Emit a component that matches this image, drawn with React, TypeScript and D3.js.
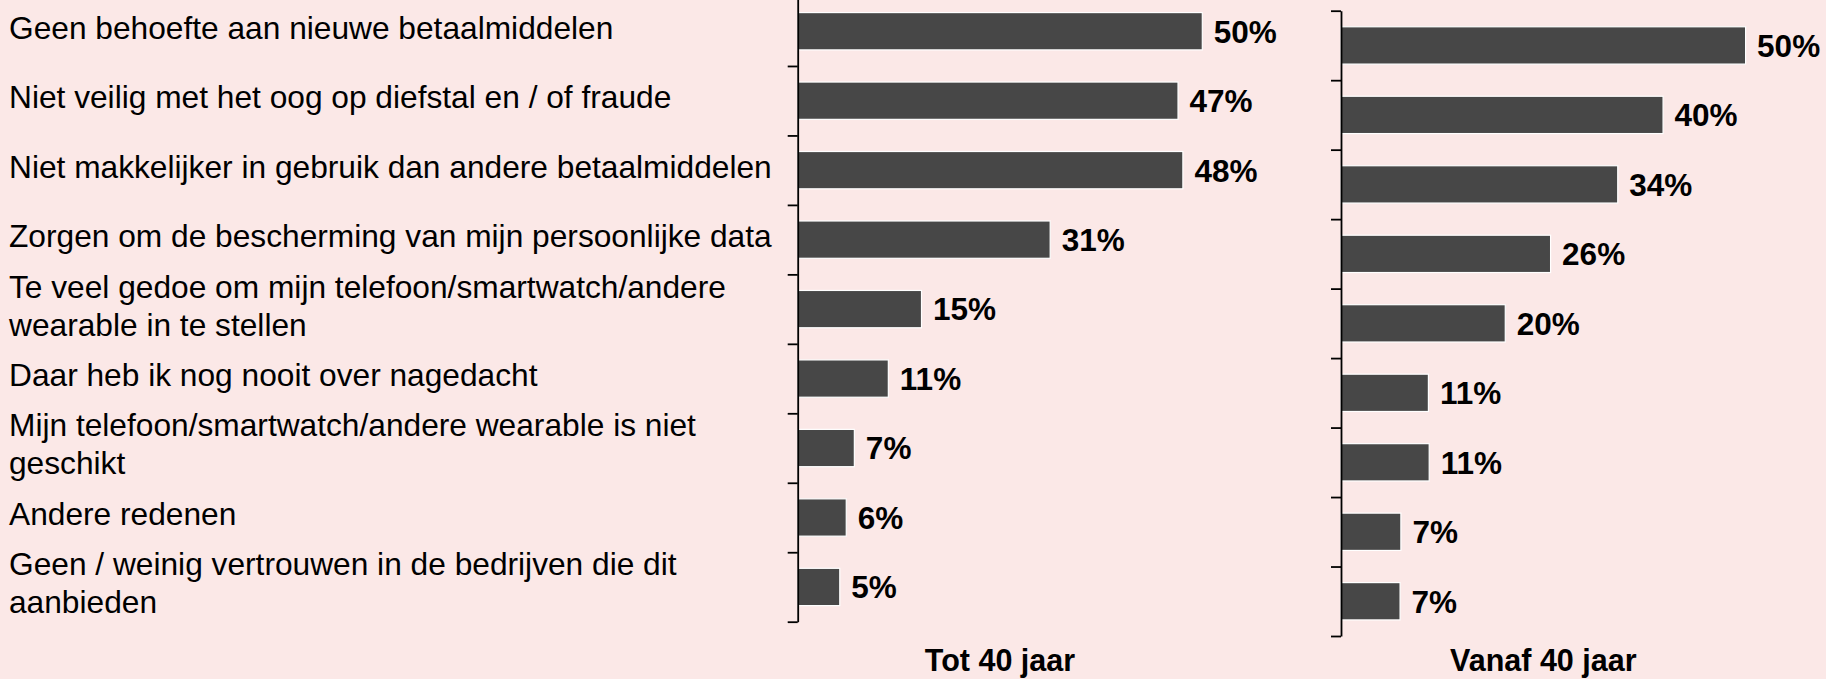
import * as d3 from "d3";
import { useRef, useEffect } from "react";

const reasons = [
  "Geen behoefte aan nieuwe betaalmiddelen",
  "Niet veilig met het oog op diefstal en / of fraude",
  "Niet makkelijker in gebruik dan andere betaalmiddelen",
  "Zorgen om de bescherming van mijn persoonlijke data",
  "Te veel gedoe om mijn telefoon/smartwatch/andere\nwearable in te stellen",
  "Daar heb ik nog nooit over nagedacht",
  "Mijn telefoon/smartwatch/andere wearable is niet\ngeschikt",
  "Andere redenen",
  "Geen / weinig vertrouwen in de bedrijven die dit\naanbieden",
];

// labels show them rounded
const under40 = [50, 47, 47.6, 31.2, 15.3, 11.2, 7, 6, 5.2];
const from40 = [50, 39.8, 34.2, 25.9, 20.3, 10.8, 10.9, 7.4, 7.3];
const panelTitles = ["Tot 40 jaar", "Vanaf 40 jaar"];

const width = 1826;
const height = 679;
const font = "'Liberation Sans', Arial, sans-serif";
const bg = "#fbe8e7";
const barColor = "#474747";

const panels = [
  { values: under40, title: panelTitles[0], left: 797.7, top: -3.5, bottom: 621.7 },
  { values: from40, title: panelTitles[1], left: 1341, top: 10.7, bottom: 636 },
];

function Axis({ left, top, bottom }) {
  const ref = useRef();
  useEffect(() => {
    const s = d3.scaleLinear([0, reasons.length], [top, bottom]);
    const axis = d3
      .axisLeft(s)
      .tickValues(d3.range(reasons.length + 1))
      .tickSize(10)
      .tickSizeOuter(0)
      .tickFormat(() => "");
    const g = d3.select(ref.current).call(axis);
    g.select(".domain").attr("stroke", "#000").attr("stroke-width", 1.8);
    g.selectAll(".tick line").attr("stroke", "#000").attr("stroke-width", 1.8);
  }, [left, top, bottom]);
  return <g ref={ref} transform={`translate(${left},0)`} />;
}

function Panel({ values, title, left, top, bottom }) {
  const y = d3
    .scaleBand(d3.range(values.length), [top, bottom])
    .paddingInner(0.463)
    .paddingOuter(0.2315);
  const x = d3.scaleLinear([0, 50], [left, left + 404.6]);
  const fmt = d3.format(".0f");
  return (
    <g>
      {values.map((v, i) => (
        <rect
          key={i}
          x={x(0)}
          y={y(i)}
          width={x(v) - x(0)}
          height={y.bandwidth()}
          fill={barColor}
          stroke="#fff"
          strokeWidth={1.2}
        />
      ))}
      {values.map((v, i) => (
        <text
          key={i}
          x={x(v) + 11.5}
          y={y(i) + y.bandwidth() / 2}
          dy="0.36em"
          fontSize={31.5}
          fontWeight="bold"
          fontFamily={font}
          fill="#000"
        >
          {fmt(v)}%
        </text>
      ))}
      <Axis left={left} top={top} bottom={bottom} />
      <text
        x={(x(0) + x(50)) / 2}
        y={671}
        textAnchor="middle"
        fontSize={30.5}
        fontWeight="bold"
        fontFamily={font}
        fill="#000"
      >
        {title}
      </text>
    </g>
  );
}

export default function App() {
  const p = panels[0];
  const yl = d3.scaleBand(d3.range(reasons.length), [p.top, p.bottom]);
  const lineGap = 38;

  return (
    <svg
      width={width}
      height={height}
      style={{ position: "absolute", left: 0, top: 0, display: "block" }}
    >
      <rect width={width} height={height} fill={bg} />
      <g fontFamily={font} fontSize={31.7} fill="#000">
        {reasons.map((r, i) => {
          const lines = r.split("\n");
          const cy = yl(i) + yl.bandwidth() / 2 - 4;
          return (
            <text key={i} x={9} y={cy - ((lines.length - 1) * lineGap) / 2}>
              {lines.map((l, j) => (
                <tspan key={j} x={9} dy={j === 0 ? "0.36em" : lineGap}>
                  {l}
                </tspan>
              ))}
            </text>
          );
        })}
      </g>
      {panels.map((pn, i) => (
        <Panel key={i} {...pn} />
      ))}
    </svg>
  );
}
